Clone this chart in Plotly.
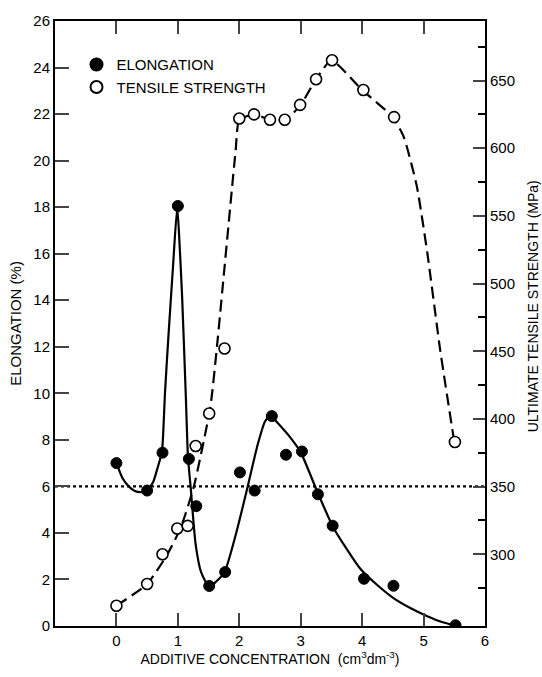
import plotly.graph_objects as go

# Measured points (x = additive concentration, cm3/dm3)
elong_x = [0, 0.5, 0.75, 1.0, 1.18, 1.3, 1.51, 1.77, 2.01, 2.25, 2.53, 2.76, 3.02, 3.28, 3.52, 4.03, 4.51, 5.52]
elong_y = [7.0, 5.82, 7.45, 18.05, 7.18, 5.15, 1.72, 2.32, 6.6, 5.82, 9.02, 7.36, 7.5, 5.66, 4.31, 2.03, 1.73, 0.03]

tens_x = [0, 0.5, 0.75, 0.99, 1.16, 1.29, 1.51, 1.76, 2.0, 2.24, 2.5, 2.74, 2.99, 3.25, 3.51, 4.02, 4.52, 5.51]
tens_y = [262, 278, 300, 319, 321, 380, 404, 452, 622, 625, 621, 621, 632, 651, 665, 643, 623, 383]

# Fitted curves
elong_curve_x = [0, 0.1, 0.2, 0.3, 0.4, 0.5, 0.6, 0.67, 0.74, 0.76, 0.79, 0.85, 0.92, 0.99, 1.03, 1.07, 1.13, 1.165, 1.21, 1.29, 1.38, 1.51, 1.62, 1.76, 1.95, 2.13, 2.3, 2.42, 2.51, 2.6, 2.8, 3.0, 3.27, 3.52, 3.75, 3.97, 4.25, 4.51, 4.8, 5.06, 5.3, 5.5]
elong_curve_y = [7.0, 6.35, 6.0, 5.8, 5.75, 5.82, 6.2, 6.8, 7.46, 8.2, 10.0, 12.6, 15.4, 18.0, 16.3, 14.1, 9.85, 7.25, 5.92, 3.5, 2.3, 1.69, 1.9, 2.32, 4.0, 5.92, 7.8, 8.8, 9.05, 8.8, 8.2, 7.46, 5.77, 4.29, 3.3, 2.46, 1.75, 1.2, 0.75, 0.42, 0.17, 0.03]

tens_curve_x = [0, 0.5, 0.83, 1.05, 1.26, 1.53, 1.64, 1.94, 2.0, 2.25, 2.5, 2.75, 3.0, 3.25, 3.5, 4.0, 4.5, 4.68, 4.89, 5.06, 5.27, 5.5]
tens_curve_y = [262, 278, 300, 320, 350, 409, 455, 598, 621, 625, 621, 621, 632, 651, 665, 643, 623, 608, 572, 523, 451, 383]

ref_x = [-1, 6]
ref_y = [6, 6]

x_ticks = [0, 1, 2, 3, 4, 5, 6]
y_ticks = list(range(0, 27, 2))
y2_ticks = [300, 350, 400, 450, 500, 550, 600, 650]

FONT = "Liberation Sans, Arial, sans-serif"

fig = go.Figure()

fig.add_trace(go.Scatter(x=ref_x, y=ref_y, mode="lines",
                         line=dict(color="black", width=2.4, dash="dot"),
                         showlegend=False, hoverinfo="skip"))
fig.add_trace(go.Scatter(x=elong_curve_x, y=elong_curve_y, mode="lines",
                         line=dict(color="black", width=2.2, shape="spline", smoothing=0.6),
                         showlegend=False, hoverinfo="skip"))
fig.add_trace(go.Scatter(x=tens_curve_x, y=tens_curve_y, mode="lines", yaxis="y2",
                         line=dict(color="black", width=2.2, dash="12px,6px", shape="spline", smoothing=0.5),
                         showlegend=False, hoverinfo="skip"))
fig.add_trace(go.Scatter(x=elong_x, y=elong_y, mode="markers", name="ELONGATION",
                         marker=dict(symbol="circle", size=11, color="black",
                                     line=dict(color="black", width=1))))
fig.add_trace(go.Scatter(x=tens_x, y=tens_y, mode="markers", name="TENSILE STRENGTH", yaxis="y2",
                         marker=dict(symbol="circle", size=11, color="white",
                                     line=dict(color="black", width=1.6))))

fig.update_layout(
    width=542, height=677,
    margin=dict(l=55, r=57, t=18, b=44),
    paper_bgcolor="white", plot_bgcolor="white",
    font=dict(family=FONT, size=15, color="black"),
    showlegend=True,
    legend=dict(x=0.05, y=0.955, xanchor="left", yanchor="top",
                bgcolor="rgba(0,0,0,0)", font=dict(size=15), tracegroupgap=0,
                itemwidth=30, itemsizing="constant"),
    xaxis=dict(range=[-1, 6], tickvals=x_ticks, ticks="inside", ticklen=13, tickwidth=2,
               showline=True, linecolor="black", linewidth=2, mirror="ticks",
               showgrid=False, zeroline=False, tickfont=dict(size=15),
               title=dict(text="ADDITIVE CONCENTRATION  (cm<sup>3</sup>dm<sup>-3</sup>)",
                          font=dict(size=14), standoff=6)),
    yaxis=dict(range=[0, 26], tickvals=y_ticks, ticks="inside", ticklen=14, tickwidth=2,
               showline=True, linecolor="black", linewidth=2,
               showgrid=False, zeroline=False, tickfont=dict(size=15),
               title=dict(text="ELONGATION (%)", font=dict(size=15), standoff=8)),
    yaxis2=dict(range=[247, 694], overlaying="y", side="right", tickvals=y2_ticks,
                ticks="inside", ticklen=12, tickwidth=2, tickfont=dict(size=15),
                minor=dict(dtick=50, tick0=275, ticks="inside", ticklen=7, tickwidth=1.5, tickcolor="black"),
                showline=True, linecolor="black", linewidth=2,
                showgrid=False, zeroline=False),
    annotations=[dict(text="ULTIMATE TENSILE STRENGTH (MPa)", xref="paper", yref="paper",
                      x=1 + (533 - 485) / 430, y=(633 - 308) / 615, xanchor="center", yanchor="middle",
                      textangle=-90, showarrow=False, font=dict(size=14))],
)

fig.write_html("out.html")
